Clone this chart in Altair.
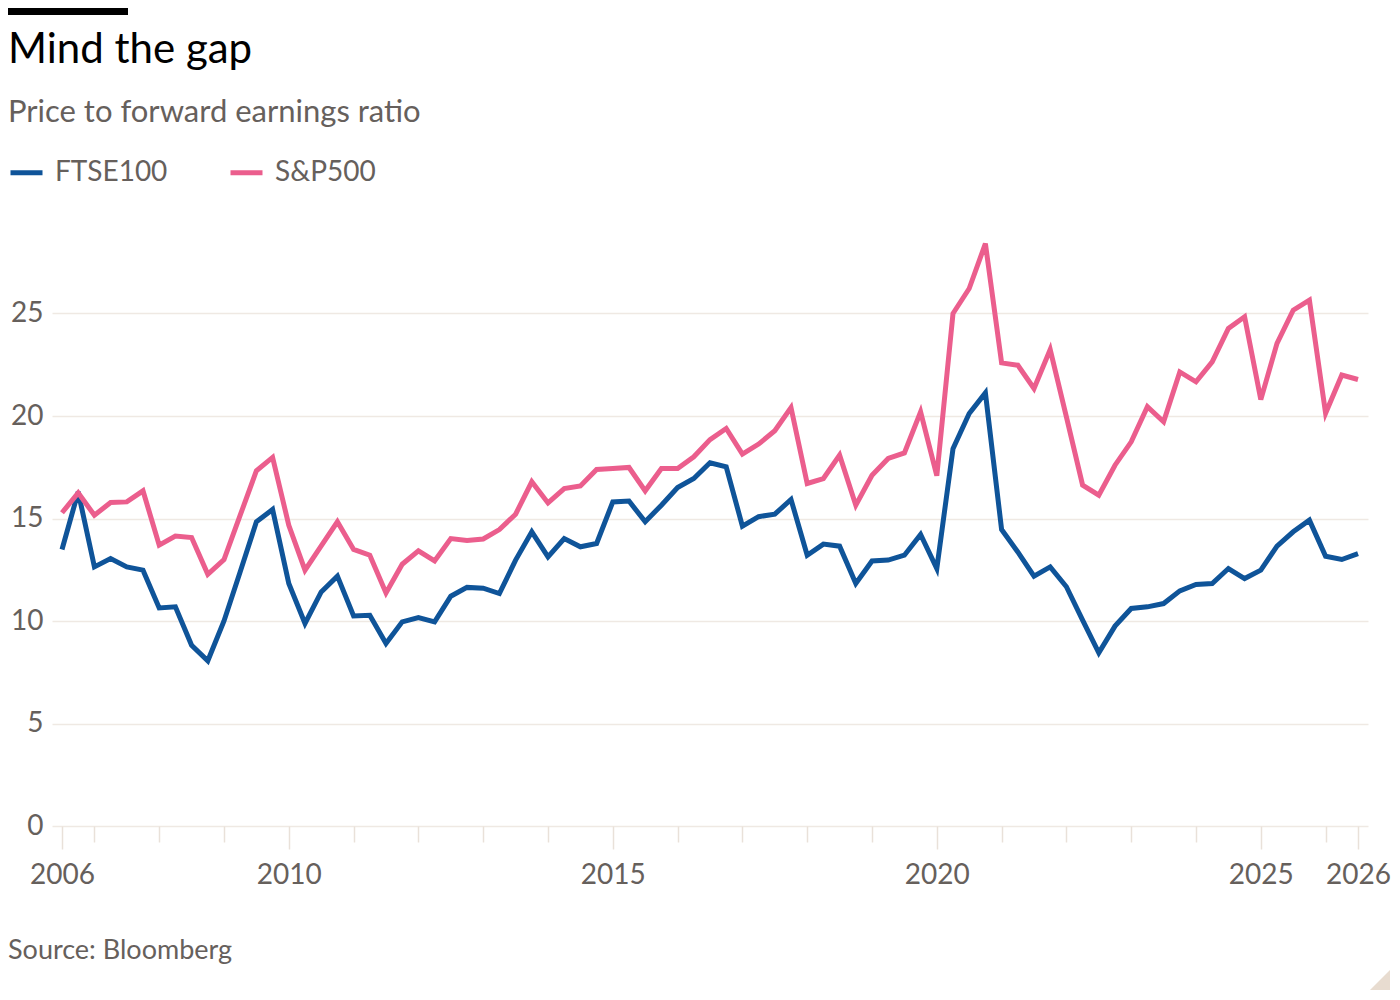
import altair as alt
import pandas as pd

# ---- data ----
series_names = ["FTSE100", "S&P500"]
series_colors = ["#0f5499", "#eb5e8d"]

# quarterly observations, first at mid-2006, last at mid-2026
n_points = 81
quarters = [2006.5 + 0.25 * i for i in range(n_points)]

ftse100 = [
    13.49, 16.30, 12.64, 13.05, 12.64, 12.48, 10.64, 10.69, 8.82, 8.06,
    10.00, 12.40, 14.84, 15.44, 11.83, 9.88, 11.42, 12.19, 10.25, 10.28,
    8.90, 9.96, 10.17, 9.96, 11.21, 11.64, 11.60, 11.34, 12.97, 14.35,
    13.13, 14.02, 13.62, 13.78, 15.81, 15.85, 14.84, 15.65, 16.51, 16.95,
    17.72, 17.52, 14.63, 15.09, 15.21, 15.93, 13.21, 13.75, 13.65, 11.83,
    12.93, 12.97, 13.21, 14.22, 12.56, 18.41, 20.12, 21.13, 14.46, 13.37,
    12.19, 12.64, 11.67, 10.04, 8.45, 9.75, 10.61, 10.69, 10.85, 11.47,
    11.78, 11.83, 12.56, 12.07, 12.48, 13.65, 14.35, 14.92, 13.16, 13.00,
    13.29,
]

sp500 = [
    15.28, 16.25, 15.16, 15.78, 15.81, 16.35, 13.70, 14.14, 14.07, 12.28,
    13.00, 15.16, 17.33, 17.98, 14.67, 12.48, 13.67, 14.84, 13.49, 13.21,
    11.37, 12.77, 13.42, 12.93, 14.02, 13.93, 14.00, 14.46, 15.21, 16.79,
    15.76, 16.46, 16.59, 17.39, 17.44, 17.49, 16.35, 17.44, 17.44, 18.01,
    18.85, 19.39, 18.14, 18.63, 19.28, 20.41, 16.71, 16.95, 18.09, 15.65,
    17.11, 17.93, 18.20, 20.20, 17.09, 25.00, 26.22, 28.41, 22.59, 22.48,
    21.34, 23.24, 19.96, 16.63, 16.14, 17.60, 18.74, 20.45, 19.72, 22.15,
    21.67, 22.64, 24.27, 24.84, 20.80, 23.54, 25.16, 25.65, 20.13, 22.00,
    21.78,
]

y_ticks = [0, 5, 10, 15, 20, 25]
x_ticks = [2006.5] + list(range(2007, 2027)) + [2026.5]

title_text = "Mind the gap"
subtitle_text = "Price to forward earnings ratio"
source_text = "Source: Bloomberg"

# ---- styling ----
FONT = "Lato"
GREY = "#66605c"
GRID = "#efe9e3"
TICK = "#e9e1d9"

df = pd.DataFrame({
    "date": quarters + quarters,
    "value": ftse100 + sp500,
    "index": [series_names[0]] * n_points + [series_names[1]] * n_points,
})

px_per_year = 64.8
x_scale = alt.Scale(domain=[2006.5 - 10 / px_per_year, 2026.5 + 10 / px_per_year],
                    nice=False, zero=False)
y_scale = alt.Scale(domain=[0, 30], nice=False)

major_test = ("datum.value == 2006.5 || datum.value == 2026.5 || "
              "indexof([2010, 2015, 2020, 2025], datum.value) >= 0")
label_expr = ("datum.value == 2006.5 ? '2006' : datum.value == 2026.5 ? '2026' : "
              "indexof([2010, 2015, 2020, 2025], datum.value) >= 0 ? "
              "toString(datum.value) : ''")

lines = alt.Chart(df).mark_line(strokeWidth=5).encode(
    x=alt.X("date:Q", scale=x_scale, axis=alt.Axis(
        values=x_ticks, title=None, domain=False, grid=False,
        labelExpr=label_expr, labelFont=FONT, labelFontSize=28,
        labelColor=GREY, labelPadding=12, labelOverlap=False, labelFlush=False,
        tickColor=TICK, tickWidth=1.5,
        tickSize={"condition": {"test": major_test, "value": 23}, "value": 16},
    )),
    y=alt.Y("value:Q", scale=y_scale, axis=alt.Axis(
        values=y_ticks, title=None, domain=False, ticks=False, grid=True,
        gridColor=GRID, gridWidth=1.5, labelFont=FONT, labelFontSize=28,
        labelColor=GREY, labelPadding=9, labelBaseline="middle",
    )),
    color=alt.Color("index:N", scale=alt.Scale(domain=series_names, range=series_colors),
                    legend=alt.Legend(
                        title=None, orient="none", legendX=-44, legendY=-57,
                        direction="horizontal", symbolType="stroke",
                        symbolSize=1024, symbolStrokeWidth=5,
                        labelFont=FONT, labelFontSize=28, labelColor=GREY,
                        labelOffset=10, columnPadding=52, labelLimit=400,
                    )),
)

one = pd.DataFrame({"t": [0]})

title = alt.Chart(pd.DataFrame({"t": [title_text]})).mark_text(
    font=FONT, fontSize=42, color="#000000", align="left", baseline="alphabetic"
).encode(x=alt.value(-44), y=alt.value(-148), text="t:N")

subtitle = alt.Chart(pd.DataFrame({"t": [subtitle_text]})).mark_text(
    font=FONT, fontSize=31, color=GREY, align="left", baseline="alphabetic"
).encode(x=alt.value(-44), y=alt.value(-89), text="t:N")

source = alt.Chart(pd.DataFrame({"t": [source_text]})).mark_text(
    font=FONT, fontSize=27, color=GREY, align="left", baseline="alphabetic"
).encode(x=alt.value(-44), y=alt.value(748), text="t:N")

bar = alt.Chart(one).mark_rect(color="#000000").encode(
    x=alt.value(-44), x2=alt.value(76), y=alt.value(-203), y2=alt.value(-196)
)

corner = alt.Chart(one).mark_point(
    shape="M 1 -1 L 1 1 L -1 1 Z", filled=True, size=400, color="#e8dcd0", opacity=1
).encode(x=alt.value(1328), y=alt.value(769))

chart = alt.layer(lines, title, subtitle, source, bar, corner).properties(
    width=1316, height=615,
    background="#ffffff",
    autosize=alt.AutoSizeParams(type="none"),
    padding={"left": 44, "top": 203, "right": 24, "bottom": 166},
).configure_view(strokeWidth=0, stroke="transparent")

chart.save("out.html", embed_options={"renderer": "svg", "actions": False})
